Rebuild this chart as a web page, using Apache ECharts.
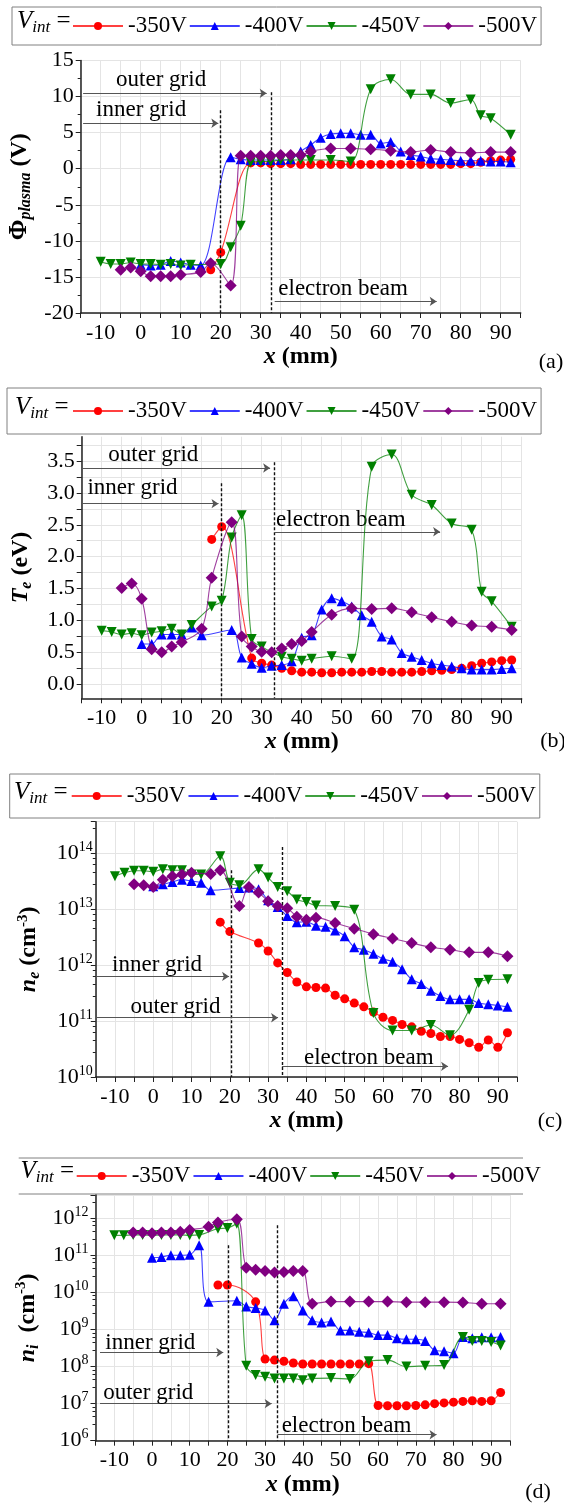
<!DOCTYPE html>
<html>
<head>
<meta charset="utf-8">
<script src="https://cdn.jsdelivr.net/npm/echarts@6/dist/echarts.min.js"></script>
<style>
  html, body { margin: 0; padding: 0; background: #fff; }
  #chart { width: 564px; height: 1506px; }
</style>
</head>
<body>
<div id="chart"></div>
<script>
// probe positions along the axis (mm)
const _ = null;
const X = [-10, -7.5, -5, -2.5, 0, 2.5, 5, 7.5, 10, 12.5,
           15, 17.5, 20, 22.5, 25, 27.5, 30, 32.5, 35, 37.5,
           40, 42.5, 45, 47.5, 50, 52.5, 55, 57.5, 60, 62.5,
           65, 67.5, 70, 72.5, 75, 77.5, 80, 82.5, 85, 87.5,
           90, 92.5];
const seriesNames = ['-350V', '-400V', '-450V', '-500V'];

// (a) plasma potential, V
const phi350 = [_, _, _, _, _, _, _, _, _, _,
  _, -14.0, -11.6, _, _, 0.8, 0.8, 0.7, 0.7, 0.7,
  0.6, 0.6, 0.6, 0.6, 0.6, 0.6, 0.6, 0.6, 0.6, 0.6,
  0.6, 0.6, 0.6, 0.6, 0.6, 0.6, 0.7, 0.7, 0.9, 1.1,
  1.2, 1.3];
const phi400 = [_, _, _, _, -13.3, -13.4, -13.3, -12.8, -13.0, -13.3,
  -13.4, _, _, 1.6, 1.3, 1.2, 1.2, 1.2, 1.2, 1.3,
  2.4, 3.3, 4.3, 4.8, 4.9, 4.9, 4.7, 4.7, 3.5, 3.7,
  2.4, 1.9, 1.7, 1.4, 1.3, 1.2, 1.1, 1.1, 1.1, 1.0,
  1.0, 0.9];
const phi450 = [-12.9, -13.2, -13.2, -13.0, -13.2, -13.2, -13.3, -13.2, -13.4, -13.3,
  _, _, -13.2, -10.9, -7.9, 0.9, 1.0, 1.0, 1.2, 1.2,
  1.2, 1.2, _, 1.2, _, 1.0, _, 11.0, _, 12.4,
  _, 10.3, _, 10.3, _, 9.1, _, 9.6, 7.4, 7.0,
  _, 4.7];
const phi500 = [_, _, -14.0, -13.7, -14.2, -14.9, -14.9, -14.9, -14.7, _,
  -14.3, -13.1, _, -16.2, 1.8, 1.8, 1.8, 1.8, 1.9, 1.9,
  1.9, 2.4, _, 2.8, _, 2.8, _, 2.7, _, 2.5,
  _, 2.3, _, 2.6, _, 2.3, _, 2.2, _, 2.3,
  _, 2.3];

// (b) electron temperature, eV
const te350 = [_, _, _, _, _, _, _, _, _, _,
  _, 2.27, 2.47, _, _, 0.41, 0.33, 0.30, 0.25, 0.21,
  0.19, 0.19, 0.18, 0.18, 0.19, 0.19, 0.19, 0.20, 0.20, 0.19,
  0.19, 0.19, 0.20, 0.21, 0.22, 0.23, 0.25, 0.29, 0.33, 0.35,
  0.37, 0.38];
const te400 = [_, _, _, _, 0.63, 0.63, 0.78, 0.78, 0.78, 0.89,
  0.77, _, _, 0.85, 0.42, 0.32, 0.26, 0.29, 0.30, 0.36,
  0.73, 0.77, 1.17, 1.35, 1.30, 1.22, 1.08, 0.98, 0.75, 0.70,
  0.49, 0.43, 0.38, 0.33, 0.30, 0.28, 0.25, 0.23, 0.23, 0.23,
  0.24, 0.25];
const te450 = [0.84, 0.82, 0.78, 0.80, 0.77, 0.81, 0.83, 0.87, 0.78, 0.93,
  _, 1.22, 1.31, 2.30, 2.65, 0.71, 0.59, _, 0.43, 0.40,
  0.37, 0.40, _, 0.44, _, 0.40, _, 3.41, _, 3.60,
  _, 2.97, _, 2.81, _, 2.52, _, 2.42, 1.45, 1.30,
  _, 0.90];
const te500 = [_, _, 1.51, 1.58, 1.34, 0.55, 0.50, 0.59, 0.66, _,
  0.87, 1.67, _, 2.54, 0.75, 0.59, 0.51, 0.50, 0.56, 0.63,
  0.68, 0.82, _, 1.09, _, 1.19, _, 1.18, _, 1.19,
  _, 1.13, _, 1.05, _, 0.98, _, 0.92, _, 0.90,
  _, 0.85];

// (c) electron density, cm^-3
const ne350 = [_, _, _, _, _, _, _, _, _, _,
  _, 5.9e12, 4.0e12, _, _, 2.5e12, 1.8e12, 1.1e12, 7.4e11, 5.0e11,
  4.1e11, 4.0e11, 3.9e11, 2.9e11, 2.5e11, 2.1e11, 1.8e11, 1.45e11, 1.17e11, 1.03e11,
  8.7e10, 7.9e10, 6.6e10, 6.0e10, 5.3e10, 5.3e10, 4.7e10, 4.1e10, 3.4e10, 4.6e10,
  3.4e10, 6.2e10];
const ne400 = [_, _, _, _, 2.6e13, 2.8e13, 3.1e13, 3.4e13, 3.2e13, 3.0e13,
  2.2e13, _, _, 2.4e13, 2.45e13, 2.3e13, 1.45e13, 1.1e13, 7.6e12, 5.9e12,
  6.0e12, 5.1e12, 4.9e12, 4.2e12, 3.3e12, 2.1e12, 1.9e12, 1.6e12, 1.3e12, 1.15e12,
  8.5e11, 5.6e11, 4.6e11, 3.5e11, 2.8e11, 2.45e11, 2.45e11, 2.45e11, 2.1e11, 2.0e11,
  1.9e11, 1.8e11];
const ne450 = [3.9e13, 4.5e13, 4.9e13, 4.9e13, 4.7e13, 5.2e13, 5.0e13, 5.0e13, 4.2e13, 4.2e13,
  _, 8.9e13, 3.0e13, 2.7e13, _, 5.2e13, 3.7e13, 2.5e13, 2.1e13, 1.5e13,
  1.35e13, 1.17e13, _, 1.15e13, _, 9.8e12, _, 1.4e11, _, 6.8e10,
  _, 6.8e10, _, 8.5e10, _, 5.6e10, _, 1.6e11, 4.8e11, 5.5e11,
  _, 5.6e11];
const ne500 = [_, _, 2.8e13, 2.7e13, 2.5e13, 3.4e13, 3.9e13, 4.2e13, 4.5e13, _,
  4.3e13, 5.0e13, _, 1.15e13, 2.5e13, 2.0e13, 1.4e13, 1.15e13, 1.05e13, 7.4e12,
  6.5e12, 7.1e12, _, 5.7e12, _, 4.5e12, _, 3.6e12, _, 3.0e12,
  _, 2.5e12, _, 2.1e12, _, 1.9e12, _, 1.7e12, _, 1.7e12,
  _, 1.45e12];

// (d) ion density, cm^-3
const ni350 = [_, _, _, _, _, _, _, _, _, _,
  _, 1.6e10, 1.6e10, _, _, 5.6e9, 1.6e8, 1.5e8, 1.4e8, 1.25e8,
  1.18e8, 1.18e8, 1.18e8, 1.18e8, 1.18e8, 1.18e8, 1.18e8, 1.2e8, 8.9e6, 8.8e6,
  8.8e6, 8.8e6, 8.9e6, 9.3e6, 1.0e7, 1.05e7, 1.1e7, 1.15e7, 1.2e7, 1.15e7,
  1.2e7, 2.0e7];
const ni400 = [_, _, _, _, 8.7e10, 9.1e10, 1.02e11, 1.02e11, 1.05e11, 1.9e11,
  5.6e9, _, _, 6.0e9, 4.2e9, 3.8e9, 3.3e9, 1.8e9, 5.0e9, 8.0e9,
  3.3e9, 1.8e9, 1.55e9, 1.65e9, 9.5e8, 9.5e8, 8.7e8, 8.3e8, 7.1e8, 7.1e8,
  5.8e8, 5.5e8, 5.5e8, 4.9e8, 2.75e8, 2.6e8, 2.3e8, 6.3e8, 5.8e8, 6.2e8,
  6.2e8, 6.3e8];
const ni450 = [3.5e11, 3.5e11, 3.6e11, 3.6e11, 3.5e11, 3.6e11, 3.6e11, 3.6e11, 3.5e11, 3.6e11,
  _, 5.3e11, 5.5e11, 7.2e11, 1.05e8, 5.9e7, 5.3e7, 4.8e7, 4.8e7, 4.8e7,
  4.3e7, 4.8e7, _, 4.9e7, _, 4.6e7, _, 1.4e8, _, 1.5e8,
  _, 1.0e8, _, 1.05e8, _, 1.1e8, _, 6.3e8, 4.9e8, 4.9e8,
  4.6e8, 3.7e8];
const ni500 = [_, _, 4.2e11, 4.2e11, 4.0e11, 4.2e11, 4.2e11, 4.4e11, 4.9e11, _,
  6.0e11, 7.8e11, _, 9.5e11, 4.7e10, 4.1e10, 3.8e10, 3.5e10, 3.6e10, 3.8e10,
  3.8e10, 5.0e9, _, 5.7e9, _, 5.7e9, _, 5.7e9, _, 5.7e9,
  _, 5.5e9, _, 5.5e9, _, 5.5e9, _, 5.4e9, _, 5.0e9,
  _, 5.0e9];

const xLabelValues = [-10, 0, 10, 20, 30, 40, 50, 60, 70, 80, 90];
const xTickValues = [-15, -10, -5, 0, 5, 10, 15, 20, 25, 30, 35, 40, 45, 50, 55, 60, 65, 70, 75, 80, 85, 90, 95];
const teLabelValues = [0, 0.5, 1.0, 1.5, 2.0, 2.5, 3.0, 3.5];
const teTickValues = [0, 0.25, 0.5, 0.75, 1.0, 1.25, 1.5, 1.75, 2.0, 2.25, 2.5, 2.75, 3.0, 3.25, 3.5, 3.75];

const colors = ['#ff0000', '#0000ff', '#008000', '#800080'];
const shapes = ['circle', 'triangle', 'triangle', 'diamond'];
const rotations = [0, 0, 180, 0];
const sizes = [9, 10, 10, 12];
const FONT = 'Liberation Serif';

// annotations in data coordinates: [text, x, y], arrows [x0, x1, y], grid lines [x, yTop, yBottom]
const panels = [
  {
    values: [phi350, phi400, phi450, phi500],
    grid: { left: 80.7, right: 43.3, top: 60.5, bottom: 1193 },
    texts: [['outer grid', 5.1, 12.3], ['inner grid', 0.1, 8.1], ['electron beam', 50.6, -16.6]],
    arrows: [[-14.4, 31.5, 10.45], [-14.4, 19.4, 6.3], [33.5, 74, -18.4]],
    guides: [[20, 8.1, -20], [32.7, 10.6, -20]]
  },
  {
    values: [te350, te400, te450, te500],
    grid: { left: 81.7, right: 42.3, top: 436.7, bottom: 807.7 },
    texts: [['outer grid', 2.9, 3.59], ['inner grid', -2.3, 3.08], ['electron beam', 49.8, 2.58]],
    arrows: [[-14.75, 32.1, 3.39], [-14.75, 19.2, 2.83], [33.1, 74.6, 2.39]],
    guides: [[20, 3.15, -0.22], [33.1, 3.48, -0.22]]
  },
  {
    values: [ne350, ne400, ne450, ne500],
    grid: { left: 95.8, right: 47, top: 821.7, bottom: 429 },
    texts: [['inner grid', 1.0, 1.0e12], ['outer grid', 5.8, 1.8e11], ['electron beam', 56.3, 2.2e10]],
    arrows: [[-14.7, 19.8, 6.3e11], [-14.7, 32.6, 1.15e11], [33.6, 77, 1.55e10]],
    guides: [[20.3, 5.0e13, 1e10], [33.6, 1.3e14, 1e10]]
  },
  {
    values: [ni350, ni400, ni450, ni500],
    grid: { left: 95.5, right: 54, top: 1195, bottom: 65.3 },
    texts: [['inner grid', -0.45, 4.3e8], ['outer grid', -1, 2.0e7], ['electron beam', 51.6, 2.5e6]],
    arrows: [[-13.8, 18.9, 2.4e8], [-13.8, 31.75, 1.0e7], [33.3, 75.5, 1.45e6]],
    guides: [[20.1, 1.9e11, 1e6], [33.3, 6.6e11, 1e6]]
  }
];

const chart = echarts.init(document.getElementById('chart'));

const labelStyle = { fontFamily: FONT, fontSize: 22, color: '#000' };
const axisLineStyle = { color: '#222', width: 1.5 };
const gridLineStyle = { color: '#e4e4e4', width: 1 };
const nameRich = {
  i: { fontFamily: FONT, fontSize: 24, fontWeight: 'bold', fontStyle: 'italic', color: '#000' },
  n: { fontFamily: FONT, fontSize: 24, fontWeight: 'bold', color: '#000' },
  p: { fontFamily: FONT, fontSize: 25, fontWeight: 'bold', color: '#000' },
  s: { fontFamily: FONT, fontSize: 16, fontWeight: 'bold', fontStyle: 'italic', color: '#000', padding: [12, 0, 0, 0] },
  sup: { fontFamily: FONT, fontSize: 15, fontWeight: 'bold', color: '#000', padding: [0, 0, 12, 0] }
};
const logRich = {
  b: { fontFamily: FONT, fontSize: 22, color: '#000' },
  e: { fontFamily: FONT, fontSize: 14, color: '#000', padding: [0, 0, 12, 0] }
};
function logLabel(v) {
  const e = Math.round(Math.log10(v));
  if (Math.abs(Math.log10(v) - e) > 1e-6) return '';
  return '{b|10}{e|' + e + '}';
}

const xNameGaps = [27, 19, 28, 30];
const xAxes = panels.map((p, i) => ({
  type: 'value', gridIndex: i, min: -15, max: 95, splitNumber: 11,
  axisLine: { onZero: false, lineStyle: axisLineStyle },
  axisTick: { show: true, customValues: xTickValues, length: 5, lineStyle: { color: '#222' } },
  axisLabel: Object.assign({ customValues: xLabelValues, margin: 9 }, labelStyle),
  splitLine: { show: true, lineStyle: gridLineStyle },
  name: '{i|x}{n| (mm)}', nameLocation: 'middle', nameGap: xNameGaps[i],
  nameTextStyle: { rich: nameRich }
}));

const yAxes = [
  {
    type: 'value', gridIndex: 0, min: -20, max: 15, interval: 5,
    axisLine: { show: true, onZero: false, lineStyle: axisLineStyle },
    axisTick: { show: true, length: 5, lineStyle: { color: '#222' } },
    minorTick: { show: true, splitNumber: 2, length: 3, lineStyle: { color: '#222' } },
    axisLabel: Object.assign({ margin: 7 }, labelStyle),
    splitLine: { show: true, lineStyle: gridLineStyle },
    name: '{p|Φ}{s|plasma}{n| (V)}', nameLocation: 'middle', nameRotate: 90, nameGap: 38,
    nameTextStyle: { rich: nameRich }
  },
  {
    type: 'value', gridIndex: 1, min: -0.22, max: 3.88, splitNumber: 8,
    axisLine: { show: true, onZero: false, lineStyle: axisLineStyle },
    axisTick: { show: true, customValues: teTickValues, length: 5, lineStyle: { color: '#222' } },
    axisLabel: Object.assign({ customValues: teLabelValues, margin: 7, formatter: v => v.toFixed(1) }, labelStyle),
    splitLine: { show: true, lineStyle: gridLineStyle },
    name: '{i|T}{s|e}{n| (eV)}', nameLocation: 'middle', nameRotate: 90, nameGap: 47,
    nameTextStyle: { rich: nameRich }
  },
  {
    type: 'log', logBase: 10, gridIndex: 2, min: 1e10, max: 3.7e14, splitNumber: 5,
    axisLine: { show: true, onZero: false, lineStyle: axisLineStyle },
    axisTick: { show: true, length: 5, lineStyle: { color: '#222' } },
    minorTick: { show: true, splitNumber: 5, length: 3, lineStyle: { color: '#222' } },
    axisLabel: { margin: 3, formatter: logLabel, rich: logRich, showMaxLabel: false },
    splitLine: { show: true, lineStyle: gridLineStyle },
    name: '{i|n}{s|e}{n| (cm}{sup|-3}{n|)}', nameLocation: 'middle', nameRotate: 90, nameGap: 53,
    nameTextStyle: { rich: nameRich }
  },
  {
    type: 'log', logBase: 10, gridIndex: 3, min: 1e6, max: 4.3e12, splitNumber: 7,
    axisLine: { show: true, onZero: false, lineStyle: axisLineStyle },
    axisTick: { show: true, length: 5, lineStyle: { color: '#222' } },
    minorTick: { show: true, splitNumber: 5, length: 3, lineStyle: { color: '#222' } },
    axisLabel: { margin: 7, formatter: logLabel, rich: logRich, showMaxLabel: false },
    splitLine: { show: true, lineStyle: gridLineStyle },
    name: '{i|n}{s|i}{n|  (cm}{sup|-3}{n|)}', nameLocation: 'middle', nameRotate: 90, nameGap: 42,
    nameTextStyle: { rich: nameRich }
  }
];

const series = [];
panels.forEach((p, i) => {
  p.values.forEach((vals, k) => {
    series.push({
      name: seriesNames[k], type: 'line', xAxisIndex: i, yAxisIndex: i,
      data: X.map((x, j) => [x, vals[j]]).filter(d => d[1] !== null),
      smooth: 0.35,
      symbol: shapes[k], symbolRotate: rotations[k], symbolSize: sizes[k],
      itemStyle: { color: colors[k] },
      lineStyle: { color: colors[k], width: 1.1, opacity: 0.75 },
      z: 3 + k
    });
  });
  // annotation layer: grid positions, arrows and captions
  series.push({
    name: 'notes' + i, type: 'line', xAxisIndex: i, yAxisIndex: i, data: [], z: 2,
    markLine: {
      silent: true, animation: false, symbol: ['none', 'none'], label: { show: false },
      data: p.guides.map(g => [
        { coord: [g[0], g[1]], lineStyle: { color: '#111', width: 1.4, type: [3, 2] } },
        { coord: [g[0], g[2]] }
      ]).concat(p.arrows.map(a => [
        { coord: [a[0], a[2]], lineStyle: { color: '#555', width: 1, type: 'solid' }, symbol: 'none' },
        { coord: [a[1], a[2]], symbol: 'arrow', symbolSize: 7 }
      ]))
    },
    markPoint: {
      silent: true, animation: false, symbol: 'circle', symbolSize: 1,
      itemStyle: { color: 'rgba(0,0,0,0)' },
      label: { show: true, position: 'inside', formatter: '{b}', fontFamily: FONT, fontSize: 23, color: '#000' },
      data: p.texts.map(t => ({ name: t[0], coord: [t[1], t[2]] }))
    }
  });
});

// legend boxes and V_int captions
const legendBoxes = [
  { left: 12, top: 7, padding: [7, 4, 7, 60], border: 1 },
  { left: 7, top: 388, padding: [11, 4, 11, 65], border: 1 },
  { left: 9.7, top: 774, padding: [10, 4, 10, 61], border: 1 },
  { left: 18.7, top: 1158, padding: [6, 4, 6, 57], border: 0 }
];
const legends = legendBoxes.map(b => ({
  data: seriesNames, left: b.left, top: b.top, orient: 'horizontal',
  padding: b.padding, itemWidth: 50, itemHeight: 10, itemGap: 2,
  borderColor: '#808080', borderWidth: b.border, selectedMode: false,
  textStyle: { fontFamily: FONT, fontSize: 23, color: '#000', lineHeight: 24 }
}));

const vintRich = {
  v: { fontFamily: FONT, fontSize: 25, fontStyle: 'italic', fill: '#000' },
  s: { fontFamily: FONT, fontSize: 17, fontStyle: 'italic', fill: '#000', padding: [13, 0, 0, 0] },
  e: { fontFamily: FONT, fontSize: 25, fill: '#000' }
};
const vintSpots = [[17, 26], [15, 411.7], [14, 796.7], [20.6, 1176]];
const panelTags = [['(a)', 551, 362], ['(b)', 553, 741], ['(c)', 550, 1121], ['(d)', 538, 1492]];

const graphic = [];
vintSpots.forEach(s => graphic.push({
  type: 'text', left: s[0], top: s[1] - 17, silent: true,
  style: { text: '{v|V}{s|int}{e| =}', rich: vintRich }
}));
panelTags.forEach(t => graphic.push({
  type: 'text', x: t[1], y: t[2], silent: true,
  style: { text: t[0], fontFamily: FONT, fontSize: 22, fill: '#000', align: 'center', verticalAlign: 'middle' }
}));
[1158, 1194].forEach(y => graphic.push({
  type: 'line', silent: true,
  shape: { x1: 18.7, y1: y, x2: 523, y2: y },
  style: { stroke: '#808080', lineWidth: 1 }
}));

const option = {
  animation: false,
  backgroundColor: '#fff',
  grid: panels.map(p => Object.assign({ outerBoundsMode: 'none' }, p.grid)),
  xAxis: xAxes,
  yAxis: yAxes,
  legend: legends,
  series: series,
  graphic: graphic
};

option && chart.setOption(option);
</script>
</body>
</html>
